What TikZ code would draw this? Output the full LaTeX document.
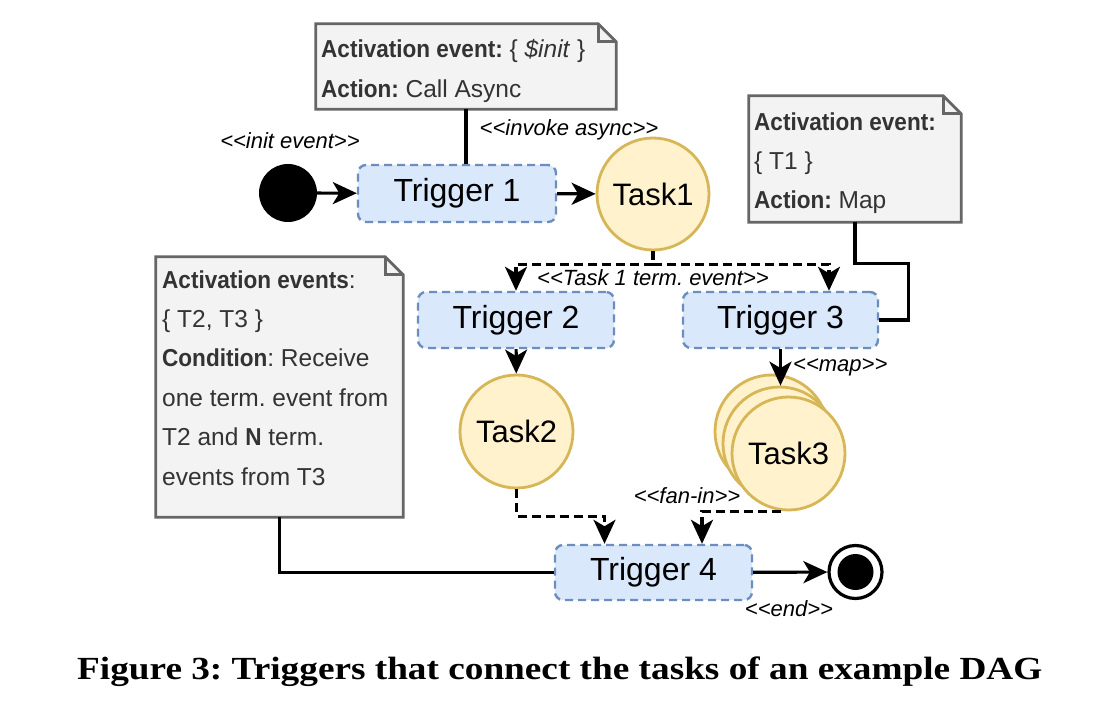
\documentclass[tikz,border=0pt]{standalone}
\usepackage{fontspec}
\setmainfont{Liberation Sans}[BoldFeatures={FakeStretch=0.92}]
\newfontfamily\capfont{Liberation Serif}
\usetikzlibrary{arrows.meta}
\pgfdeclarelayer{background}
\pgfdeclarelayer{canvas}
\pgfsetlayers{canvas,background,main}
\definecolor{trigfill}{HTML}{DAE8FC}
\definecolor{trigdraw}{HTML}{6C8EBF}
\definecolor{taskfill}{HTML}{FFF2CC}
\definecolor{taskdraw}{HTML}{D6B656}
\definecolor{notefill}{HTML}{F3F3F3}
\definecolor{notedraw}{HTML}{666666}
\definecolor{notetxt}{HTML}{333333}
\tikzset{
  trig/.style={draw=trigdraw, fill=trigfill, line width=2.4pt, dash pattern=on 8pt off 5pt,
    rounded corners=8pt, minimum width=197pt, minimum height=56pt, inner sep=0pt,
    font=\fontsize{32}{38}\selectfont},
  task/.style={circle, draw=taskdraw, fill=taskfill, line width=2.8pt, minimum size=113pt,
    inner sep=0pt, font=\fontsize{31}{36}\selectfont},
  notebox/.style={inner sep=0pt, draw=none, fill=none},
  noteshape/.style={draw=notedraw, fill=notefill, line width=2.8pt, line join=miter},
  notetext/.style={anchor=north west, inner sep=0pt, align=left, text=notetxt},
  lbl/.style={font=\fontsize{22}{25}\selectfont\itshape, inner sep=0pt},
  conn/.style={line width=3.2pt, draw=black},
  arr/.style={conn, -{Stealth[length=24pt,width=22pt,inset=6.5pt]}},
  dasharr/.style={arr, dash pattern=on 9pt off 5pt},
}
\newcommand\drawnote[1]{%
  \begin{pgfonlayer}{background}
    \draw[noteshape] (#1.north west) -- ([xshift=-18pt]#1.north east) -- ([yshift=-18pt]#1.north east)
      -- (#1.south east) -- (#1.south west) -- cycle;
    \draw[noteshape, fill=none] ([xshift=-18pt]#1.north east) -- ([xshift=-18pt,yshift=-18pt]#1.north east)
      -- ([yshift=-18pt]#1.north east);
  \end{pgfonlayer}}
\begin{document}
\frenchspacing
\begin{tikzpicture}[x=1pt, y=-1pt]
\useasboundingbox (0,0) rectangle (1098,709);
\begin{pgfonlayer}{canvas}
\fill[white] (0,0) rectangle (1098,709);
\end{pgfonlayer}

% notes
\node[notebox, minimum width=300pt, minimum height=85pt] (n1) at (466,66.5) {};
\drawnote{n1}
\node[notetext, font=\fontsize{24.5}{40}\selectfont] (n1t) at (321,29) {\strut\textbf{Activation event:} \{ \textit{\$init} \}\\\textbf{Action:} Call Async};

\node[notebox, minimum width=212pt, minimum height=126pt] (n2) at (855,159) {};
\drawnote{n2}
\node[notetext, font=\fontsize{24.5}{39}\selectfont] (n2t) at (754,102.7) {\strut\textbf{Activation event:}\\\{ T1 \}\\\textbf{Action:} Map};

\node[notebox, minimum width=247pt, minimum height=260pt] (n3) at (279.5,387) {};
\drawnote{n3}
\node[notetext, font=\fontsize{24.5}{39.4}\selectfont] (n3t) at (162,260.4) {\strut\textbf{Activation events}:\\\{ T2, T3 \}\\\textbf{Condition}: Receive\\one term. event from\\T2 and \textbf{N} term.\\events from T3};

% triggers
\node[trig, minimum width=198pt, minimum height=57pt] (t1) at (457,193.5) {Trigger 1};
\node[trig, minimum width=196pt] (t2) at (516,320) {Trigger 2};
\node[trig, minimum width=195pt] (t3) at (780.5,320) {Trigger 3};
\node[trig, minimum height=55pt] (t4) at (653.5,572.5) {Trigger 4};

% tasks
\node[task, minimum size=112pt] (task1) at (653,194) {Task1};
\node[task] (task2) at (516.5,431.5) {Task2};
\node[task] (task3a) at (771.5,431.5) {};
\node[task] (task3b) at (779.5,443.5) {};
\node[task] (task3c) at (788.5,453.5) {Task3};

% start / end
\node[circle, fill=black, minimum size=58pt, inner sep=0pt] (start) at (288,193) {};
\node[circle, draw=black, fill=white, line width=3.2pt, minimum size=53pt, inner sep=0pt] (end) at (855.5,572) {};
\node[circle, fill=black, minimum size=36pt, inner sep=0pt] (endin) at (end.center) {};

% connectors
\draw[arr] (start) -- (t1);
\draw[arr] (t1) -- (task1);
\draw[conn] (n1.south) -- (n1.south |- t1.north);
\coordinate (j1) at ([yshift=-13pt]task1.south);
\draw[conn, dash pattern=on 9pt off 5pt] (task1.south) -- (j1);
\draw[dasharr] (j1) -| (t2.north);
\draw[dasharr] (j1) -| ([xshift=48.5pt]t3.north);
\draw[conn] (n2.south) -- ++(0,41) -| ([xshift=29pt]t3.east) -- (t3.east);
\draw[arr] (t2) -- (task2);
\draw[arr] (t3.south) -- (t3.south |- task3b.north);
\draw[dasharr] (task2.south) -- ++(0,27) -| ([xshift=-49pt]t4.north);
\draw[dasharr] ([xshift=-8pt]task3c.south) -| ([xshift=48.5pt]t4.north);
\draw[conn] (n3.south) |- (t4.west);
\draw[arr] (t4) -- (end);

% labels
\node[lbl] (linit) at (290,141) {<\kern0pt<init event>\kern0pt>};
\node[lbl] (linv) at (569,130) {<\kern0pt<invoke async>\kern0pt>};
\node[lbl] (lterm) at (653,278) {<\kern0pt<Task 1 term. event>\kern0pt>};
\node[lbl, anchor=west] (lmap) at (793,367) {<\kern0pt<map>\kern0pt>};
\node[lbl] (lfan) at (687,496) {<\kern0pt<fan-in>\kern0pt>};
\node[lbl] (lend) at (789,609) {<\kern0pt<end>\kern0pt>};

% caption
\node[anchor=base west, inner sep=0pt] (cap) at (77,679.3) {\resizebox{965pt}{22.7pt}{\capfont\bfseries Figure 3: Triggers that connect the tasks of an example DAG}};
\end{tikzpicture}
\end{document}
